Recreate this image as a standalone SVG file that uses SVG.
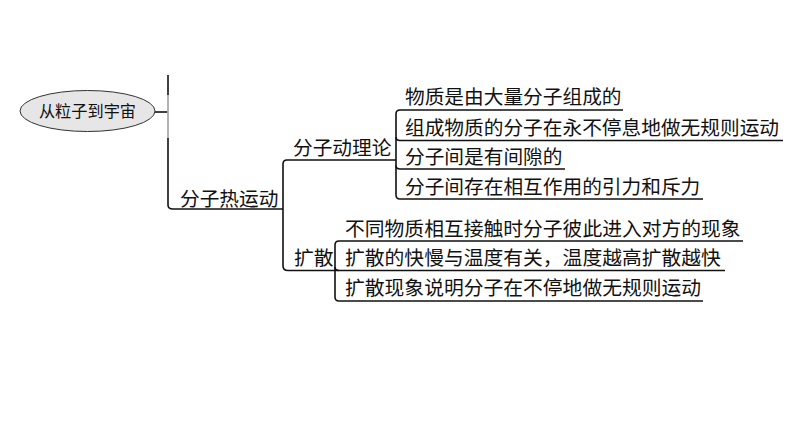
<svg xmlns="http://www.w3.org/2000/svg" width="794" height="447" viewBox="0 0 794 447">
<style>
.t{font-family:"Noto Sans CJK SC","Liberation Sans",sans-serif;fill:#111;font-size:19.7px}
.lo{font-size:19.8px}
.c{fill:none;stroke:#111;stroke-width:1.6;stroke-linejoin:round}
</style>
<rect width="794" height="447" fill="#fff"/>
<g id="connectors">
<path class="c" d="M155,112 H168"/>
<path class="c" d="M168,75 V95"/>
<path d="M168,95 V138" fill="none" stroke="#aaa" stroke-width="1.8"/>
<path class="c" d="M168,138 V205 Q168,209 173,209 H283"/>
<path class="c" d="M287,160 H396 M283,209 V164 Q283,160 287,160 M283,209 V266 Q283,270.5 288,270.5 H725"/>
<path class="c" d="M623,110 H400 Q396,110 396,114 V195 Q396,199 400,199 H703"/>
<path class="c" d="M396,137 Q396,140.5 400,140.5 H783"/>
<path class="c" d="M396,165.5 Q396,169 400,169 H565"/>
<path class="c" d="M743,241 H339 Q335,241 335,245 V297 Q335,301 339,301 H703"/>
<path class="c" d="M335,267 Q335,270.5 339,270.5"/>
</g>
<g id="root">
<ellipse cx="87.5" cy="111" rx="67.5" ry="20.5" fill="#e6e6e6" stroke="#333" stroke-width="1"/>
<text class="t" x="87.5" y="117" text-anchor="middle" style="font-size:16.2px">从粒子到宇宙</text>
</g>
<g id="n-rey"><text class="t" x="180" y="205.5">分子热运动</text></g>
<g id="n-dll"><text class="t" x="293" y="155">分子动理论</text></g>
<g id="n-d1"><text class="t" x="405" y="104">物质是由大量分子组成的</text></g>
<g id="n-d2"><text class="t" x="405" y="134.5">组成物质的分子在永不停息地做无规则运动</text></g>
<g id="n-d3"><text class="t" x="405" y="163.5">分子间是有间隙的</text></g>
<g id="n-d4"><text class="t" x="405" y="193.5">分子间存在相互作用的引力和斥力</text></g>
<g id="n-ks"><text class="t lo" x="294" y="265">扩散</text></g>
<g id="n-k1"><text class="t lo" x="345" y="235.5">不同物质相互接触时分子彼此进入对方的现象</text></g>
<g id="n-k2"><text class="t lo" x="345" y="265">扩散的快慢与温度有关，温度越高扩散越快</text></g>
<g id="n-k3"><text class="t lo" x="345" y="295">扩散现象说明分子在不停地做无规则运动</text></g>
</svg>
